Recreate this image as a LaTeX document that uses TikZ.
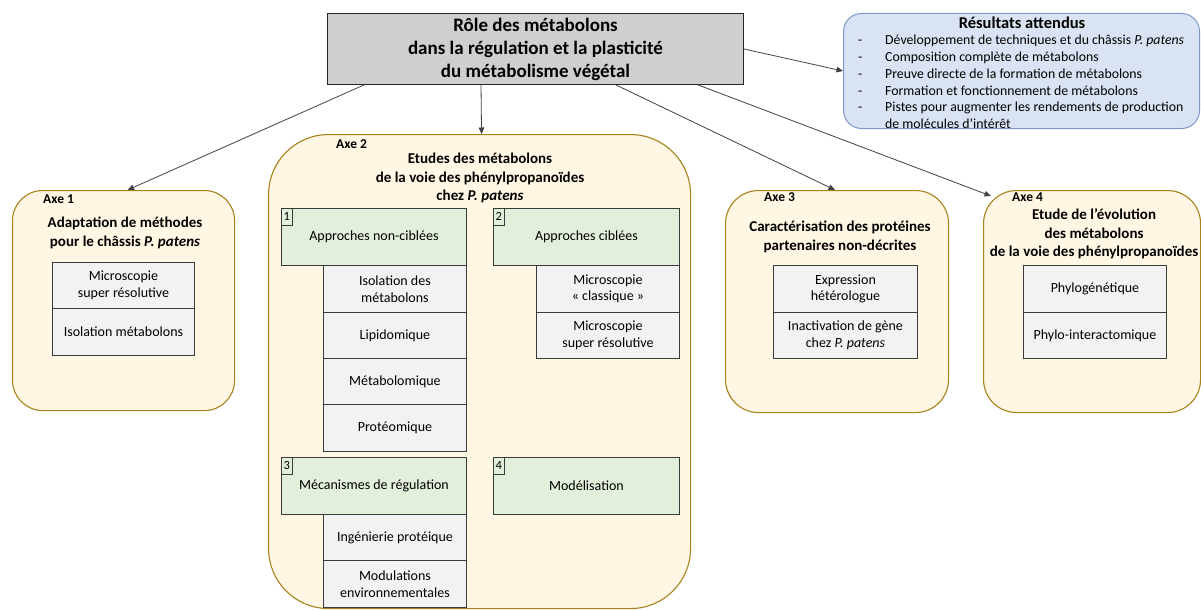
\documentclass[tikz,border=0pt]{standalone}
\usepackage{fontspec}
\setmainfont{Carlito}
\usetikzlibrary{arrows.meta}

\definecolor{axefill}{HTML}{FFF7E3}
\definecolor{axeline}{HTML}{A8821C}
\definecolor{subfill}{HTML}{F2F2F2}
\definecolor{boxline}{HTML}{3A3A3A}
\definecolor{grnfill}{HTML}{E2EFDA}
\definecolor{topfill}{HTML}{D0CECE}
\definecolor{topline}{HTML}{262626}
\definecolor{resfill}{HTML}{DAE3F3}
\definecolor{resline}{HTML}{7F98C9}
\definecolor{arrowcol}{HTML}{404040}

\newcommand{\fs}[2]{\fontsize{#1}{#2}\selectfont}

\tikzset{
  axebox/.style={draw=axeline, fill=axefill, line width=1.1pt, anchor=north west, inner sep=0pt},
  subbox/.style={draw=boxline, fill=subfill, line width=0.9pt, anchor=north west,
    align=center, inner sep=0pt, font=\fs{14}{16.5}},
  grnbox/.style={subbox, fill=grnfill},
  tagbox/.style={draw=boxline, line width=0.8pt, anchor=north west, minimum width=11pt,
    minimum height=17pt, inner sep=0pt, font=\fs{12.5}{13}},
  axelabel/.style={anchor=west, inner sep=0pt, font=\bfseries\fs{13.5}{15}},
  axetitle/.style={align=center, inner sep=0pt, font=\bfseries\fs{15}{18.5}},
  resline/.style={anchor=base west, inner sep=0pt, font=\fs{13.8}{16.5}},
  arr/.style={draw=arrowcol, line width=0.8pt, -{Triangle[length=6.5pt,width=5.5pt]}},
}

\begin{document}
\begin{tikzpicture}[x=1pt, y=-1pt]
\fill[white] (0,0) rectangle (1201,610);
\useasboundingbox (0,0) rectangle (1201,610);

% central question
\node[draw=topline, fill=topfill, line width=1pt, anchor=north west, inner sep=0pt,
      minimum width=416pt, minimum height=70pt] (top) at (327,13.5) {};
\node[align=center, inner sep=0pt, font=\bfseries\fs{19}{23}] (toptitle) at (top.center)
  {Rôle des métabolons\\dans la régulation et la plasticité\\du métabolisme végétal};

% expected results
\node[draw=resline, fill=resfill, line width=1pt, rounded corners=18pt, anchor=north west,
      inner sep=0pt, minimum width=356pt, minimum height=115pt] (res) at (843,13) {};
\node[inner sep=0pt, font=\bfseries\fs{16.5}{19}] (restitle) at (1022,23) {Résultats attendus};
\node[resline] (r1) at (858,45)    {\makebox[27pt][l]{-}Développement de techniques et du châssis \textit{P. patens}};
\node[resline] (r2) at (858,61.5)  {\makebox[27pt][l]{-}Composition complète de métabolons};
\node[resline] (r3) at (858,78)    {\makebox[27pt][l]{-}Preuve directe de la formation de métabolons};
\node[resline] (r4) at (858,95)    {\makebox[27pt][l]{-}Formation et fonctionnement de métabolons};
\node[resline] (r5) at (858,111.5) {\makebox[27pt][l]{-}Pistes pour augmenter les rendements de production};
\node[resline] (r6) at (858,128)   {\makebox[27pt][l]{}de molécules d’intérêt};

% Axe 1
\node[axebox, rounded corners=30pt, minimum width=222pt, minimum height=220pt] (axe1) at (12,190) {};
\node[axelabel] (lab1) at (43,199) {Axe 1};
\node[axetitle] (tit1) at (125,233) {Adaptation de méthodes\\pour le châssis \textit{P. patens}};
\node[subbox, minimum width=142pt, minimum height=46pt] (a1s1) at (52,262) {Microscopie\\super résolutive};
\node[subbox, minimum width=142pt, minimum height=47pt] (a1s2) at (52,308) {Isolation métabolons};

% Axe 2
\node[axebox, rounded corners=60pt, minimum width=422pt, minimum height=474pt] (axe2) at (268,134) {};
\node[axelabel] (lab2) at (336,144) {Axe 2};
\node[axetitle] (tit2) at (480,178) {Etudes des métabolons\\de la voie des phénylpropanoïdes\\chez \textit{P. patens}};

\node[grnbox, minimum width=185pt, minimum height=57pt] (g1) at (281,208) {Approches non-ciblées};
\node[tagbox] (t1) at (281,208) {1};
\node[subbox, minimum width=143pt, minimum height=47pt] (g1a) at (323,265) {Isolation des\\métabolons};
\node[subbox, minimum width=143pt, minimum height=46pt] (g1b) at (323,312) {Lipidomique};
\node[subbox, minimum width=143pt, minimum height=46pt] (g1c) at (323,358) {Métabolomique};
\node[subbox, minimum width=143pt, minimum height=47pt] (g1d) at (323,404) {Protéomique};

\node[grnbox, minimum width=186pt, minimum height=57pt] (g2) at (493,208) {Approches ciblées};
\node[tagbox] (t2) at (493,208) {2};
\node[subbox, minimum width=143pt, minimum height=47pt] (g2a) at (536,265) {Microscopie\\« classique »};
\node[subbox, minimum width=143pt, minimum height=46pt] (g2b) at (536,312) {Microscopie\\super résolutive};

\node[grnbox, minimum width=185pt, minimum height=57pt] (g3) at (281,457) {Mécanismes de régulation};
\node[tagbox] (t3) at (281,457) {3};
\node[subbox, minimum width=143pt, minimum height=46pt] (g3a) at (323,514) {Ingénierie protéique};
\node[subbox, minimum width=143pt, minimum height=47pt] (g3b) at (323,560) {Modulations\\environnementales};

\node[grnbox, minimum width=186pt, minimum height=57pt] (g4) at (493,457) {Modélisation};
\node[tagbox] (t4) at (493,457) {4};

% Axe 3
\node[axebox, rounded corners=33pt, minimum width=223pt, minimum height=222pt] (axe3) at (725,190) {};
\node[axelabel] (lab3) at (764,197) {Axe 3};
\node[axetitle] (tit3) at (840,237) {Caractérisation des protéines\\partenaires non-décrites};
\node[subbox, minimum width=144pt, minimum height=47pt] (a3s1) at (773,265) {Expression\\hétérologue};
\node[subbox, minimum width=144pt, minimum height=46pt] (a3s2) at (773,312) {Inactivation de gène\\chez \textit{P. patens}};

% Axe 4
\node[axebox, rounded corners=33pt, minimum width=217pt, minimum height=222pt] (axe4) at (983,190) {};
\node[axelabel] (lab4) at (1012,197) {Axe 4};
\node[axetitle] (tit4) at (1094,234) {Etude de l’évolution\\des métabolons\\de la voie des phénylpropanoïdes};
\node[subbox, minimum width=143pt, minimum height=47pt] (a4s1) at (1023,265) {Phylogénétique};
\node[subbox, minimum width=143pt, minimum height=46pt] (a4s2) at (1023,312) {Phylo-interactomique};

% connectors
\draw[arr] ([xshift=38pt]top.south west) -- ([xshift=4pt]axe1.north);
\draw[arr] ([xshift=154pt]top.south west) -- ([xshift=2pt]axe2.north);
\draw[arr] ([xshift=288pt]top.south west) -- ([xshift=-2pt]axe3.north);
\draw[arr] ([xshift=370pt]top.south west) -- ([xshift=8pt,yshift=-6pt]axe4.north west);
\draw[arr] (top.east) -- (res.west);
\end{tikzpicture}
\end{document}
